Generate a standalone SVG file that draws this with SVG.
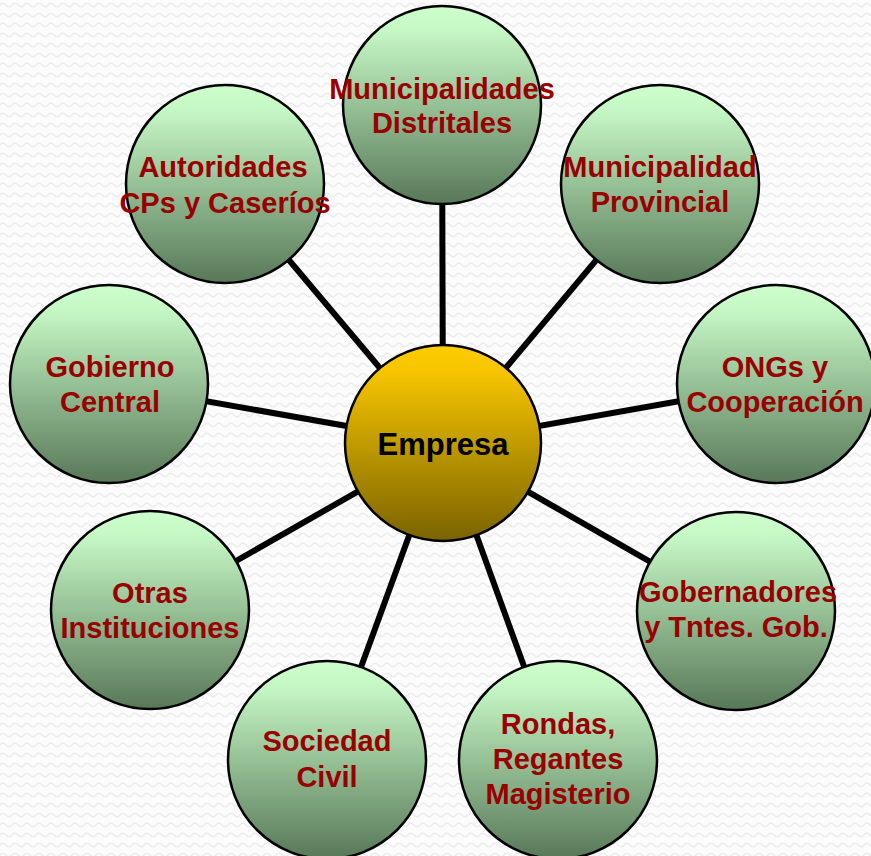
<svg xmlns="http://www.w3.org/2000/svg" width="871" height="856" viewBox="0 0 871 856">
  <defs>
    <pattern id="bg" width="12" height="10" patternUnits="userSpaceOnUse">
      <rect width="12" height="10" fill="#fcfcfc"/>
      <path d="M0,5 Q3,1.5 6,5 T12,5" fill="none" stroke="#ececec" stroke-width="1.6"/>
    </pattern>
    <linearGradient id="green" x1="0" y1="0" x2="0" y2="1">
      <stop offset="0" stop-color="#ccffcc"/>
      <stop offset="0.12" stop-color="#c6f8c6"/>
      <stop offset="1" stop-color="#587858"/>
    </linearGradient>
    <linearGradient id="gold" x1="0" y1="0" x2="0" y2="1">
      <stop offset="0" stop-color="#ffcc00"/>
      <stop offset="0.12" stop-color="#f8c600"/>
      <stop offset="1" stop-color="#7a6300"/>
    </linearGradient>
  </defs>
  <style>
    .outer { fill: url(#green); stroke: #000; stroke-width: 2.5; }
    .center { fill: url(#gold); stroke: #000; stroke-width: 2.5; }
    .lbl { font-family: "Liberation Sans", Arial, sans-serif; font-weight: bold; font-size: 29px; fill: #990000; text-anchor: middle; }
    .clbl { font-family: "Liberation Sans", Arial, sans-serif; font-weight: bold; font-size: 31px; fill: #000; text-anchor: middle; }
    .conn { stroke: #000; stroke-width: 6; }
  </style>
  <rect width="871" height="856" fill="url(#bg)"/>
  <g id="connectors" class="conn">
    <line x1="443" y1="443" x2="442" y2="105"/>
    <line x1="443" y1="443" x2="660" y2="184"/>
    <line x1="443" y1="443" x2="776" y2="384"/>
    <line x1="443" y1="443" x2="736" y2="611"/>
    <line x1="443" y1="443" x2="558" y2="760"/>
    <line x1="443" y1="443" x2="327" y2="760"/>
    <line x1="443" y1="443" x2="150" y2="610"/>
    <line x1="443" y1="443" x2="109" y2="384"/>
    <line x1="443" y1="443" x2="225" y2="184"/>
  </g>
  <g id="node-municipalidades-distritales">
    <circle class="outer" cx="442" cy="105" r="99"/>
    <text class="lbl" x="442" y="99">Municipalidades</text>
    <text class="lbl" x="442" y="133">Distritales</text>
  </g>
  <g id="node-municipalidad-provincial">
    <circle class="outer" cx="660" cy="184" r="99"/>
    <text class="lbl" x="660" y="177">Municipalidad</text>
    <text class="lbl" x="660" y="212">Provincial</text>
  </g>
  <g id="node-ongs">
    <circle class="outer" cx="776" cy="384" r="99"/>
    <text class="lbl" x="775" y="377">ONGs y</text>
    <text class="lbl" x="775" y="412">Cooperación</text>
  </g>
  <g id="node-gobernadores">
    <circle class="outer" cx="736" cy="611" r="99"/>
    <text class="lbl" x="738" y="602">Gobernadores</text>
    <text class="lbl" x="736" y="637">y Tntes. Gob.</text>
  </g>
  <g id="node-rondas">
    <circle class="outer" cx="558" cy="760" r="99"/>
    <text class="lbl" x="558" y="734">Rondas,</text>
    <text class="lbl" x="558" y="769">Regantes</text>
    <text class="lbl" x="558" y="804">Magisterio</text>
  </g>
  <g id="node-sociedad-civil">
    <circle class="outer" cx="327" cy="760" r="99"/>
    <text class="lbl" x="327" y="751">Sociedad</text>
    <text class="lbl" x="327" y="787">Civil</text>
  </g>
  <g id="node-otras-instituciones">
    <circle class="outer" cx="150" cy="610" r="99"/>
    <text class="lbl" x="150" y="603">Otras</text>
    <text class="lbl" x="150" y="638">Instituciones</text>
  </g>
  <g id="node-gobierno-central">
    <circle class="outer" cx="109" cy="384" r="99"/>
    <text class="lbl" x="110" y="377">Gobierno</text>
    <text class="lbl" x="110" y="412">Central</text>
  </g>
  <g id="node-autoridades">
    <circle class="outer" cx="225" cy="184" r="99"/>
    <text class="lbl" x="223" y="177">Autoridades</text>
    <text class="lbl" x="225" y="213">CPs y Caseríos</text>
  </g>
  <g id="node-empresa">
    <circle class="center" cx="443" cy="443" r="98"/>
    <text class="clbl" x="443" y="455">Empresa</text>
  </g>
</svg>
